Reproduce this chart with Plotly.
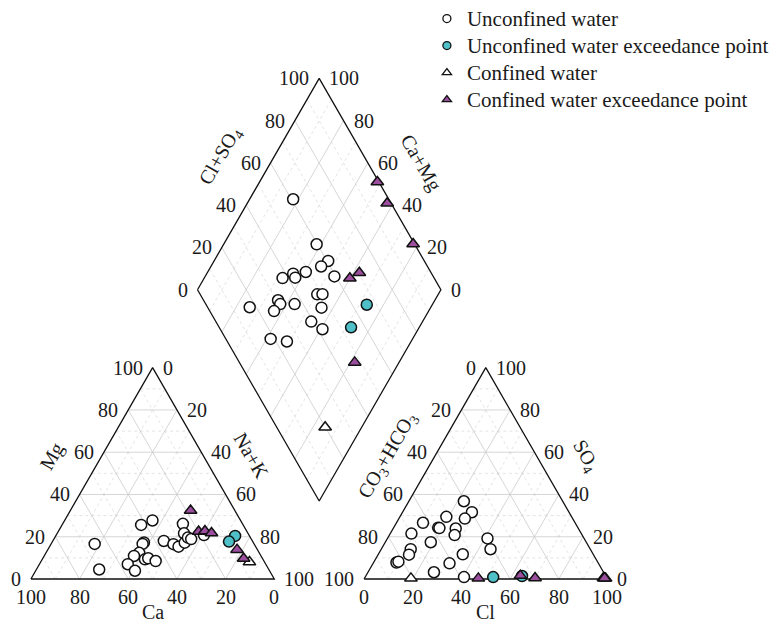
import numpy as np
import plotly.graph_objects as go

# ------------------------------------------------------------------
# DATA (percent of meq/L)
# ------------------------------------------------------------------
# Unconfined water - cation triangle
unc_ca = [65.5, 69.7, 41.9, 36.2, 44.9, 45.8, 49.3, 52.2, 56.7, 55.3, 48.5,
          46.9, 44.5, 36.4, 33.2, 31.7, 24.5, 26.3, 28.2, 25.7, 24.7, 18.5]
unc_mg = [16.6, 4.5, 25.6, 27.7, 17.3, 16.6, 12.4, 10.9, 7.0, 3.9, 9.3,
          9.8, 8.5, 18.0, 16.5, 15.3, 26.1, 21.6, 17.2, 19.6, 18.9, 20.8]
# Unconfined water - anion triangle
unc_cl = [22.6, 28.5, 27.1, 19.1, 18.3, 18.9, 25.7, 26.8, 10.9, 8.7, 18.7,
          12.1, 12.7, 9.4, 10.0, 27.1, 31.4, 34.7, 41.1, 44.9, 40.6]
unc_so4 = [36.8, 31.6, 28.6, 29.4, 24.3, 24.1, 23.9, 20.8, 26.6, 21.5, 17.4,
           14.1, 11.5, 7.8, 8.2, 3.2, 7.4, 11.7, 19.2, 14.1, 0.9]
# Unconfined water - diamond (Ca+Mg, Cl+SO4)
unc_camg = [82.1, 61.8, 53.1, 54.7, 46.9, 59.7, 64.5, 62.7, 67.8, 74.4, 64.4,
            62.6, 63.5, 56.7, 49.7, 47.6, 44.8, 45.7, 39.3, 58.3, 51.0]
unc_clso4 = [60.7, 59.7, 60.5, 56.3, 59.4, 48.7, 43.1, 43.0, 37.7, 17.3, 30.6,
             30.6, 26.4, 36.5, 48.1, 50.3, 46.7, 39.2, 42.0, 18.4, 24.5]

# Unconfined water exceedance points
uex_ca = [5.9, 9.75]
uex_mg = [20.4, 17.7]
uex_cl = [52.6, 64.2]
uex_so4 = [0.9, 1.4]
uex_camg = [26.9, 28.0]
uex_clso4 = [66.0, 54.2]

# Confined water
con_ca = [6.2]
con_mg = [8.0]
con_cl = [19.1]
con_so4 = [0.3]
con_camg = [15.0]
con_clso4 = [19.9]

# Confined water exceedance points
cex_ca = [18.2, 19.85, 17.15, 14.9, 8.35, 7.75]
cex_mg = [32.4, 22.5, 22.7, 21.8, 13.9, 9.7]
cex_cl = [46.8, 63.4, 70.0, 98.1, 99.1, 98.6]
cex_so4 = [0.3, 1.6, 0.5, 0.5, 0.3, 0.4]
cex_camg = [51.6, 42.5, 22.2, 40.1, 37.5, 18.2]
cex_clso4 = [99.4, 98.4, 99.4, 65.3, 70.5, 47.4]

TICKS = [0, 20, 40, 60, 80, 100]
SOLID_LEVELS = [20, 40, 60, 80]
DASH_LEVELS = [10, 30, 50, 70, 90]

# ------------------------------------------------------------------
# GEOMETRY
# ------------------------------------------------------------------
H = np.sqrt(3) / 2
GAP = 36.9
OX = 100 + GAP  # x offset of anion triangle


def cation_xy(ca, mg):
    ca = np.asarray(ca, float); mg = np.asarray(mg, float)
    na = 100 - ca - mg
    return na + 0.5 * mg, H * mg


def anion_xy(cl, so4):
    cl = np.asarray(cl, float); so4 = np.asarray(so4, float)
    return OX + cl + 0.5 * so4, H * so4


def diamond_xy(camg, a):
    camg = np.asarray(camg, float); a = np.asarray(a, float)
    na = 100 - camg
    return (na + OX + a) / 2, H * (OX + a - na)


def tri_segments(ox, levels):
    segs = []
    for v in levels:
        segs.append(((ox + 0.5 * v, H * v), (ox + 100 - 0.5 * v, H * v)))
        segs.append(((ox + v, 0), (ox + v + 0.5 * (100 - v), H * (100 - v))))
        segs.append(((ox + 100 - v, 0), (ox + 0.5 * (100 - v), H * (100 - v))))
    return segs


def dia_segments(levels):
    segs = []
    for v in levels:
        x0, y0 = diamond_xy(v, 0); x1, y1 = diamond_xy(v, 100)
        segs.append(((float(x0), float(y0)), (float(x1), float(y1))))
        x0, y0 = diamond_xy(0, v); x1, y1 = diamond_xy(100, v)
        segs.append(((float(x0), float(y0)), (float(x1), float(y1))))
    return segs


def seg_xy(segs):
    xs, ys = [], []
    for (a, b) in segs:
        xs += [a[0], b[0], None]
        ys += [a[1], b[1], None]
    return xs, ys


fig = go.Figure()

# grid
sx, sy = seg_xy(tri_segments(0, DASH_LEVELS) + tri_segments(OX, DASH_LEVELS) + dia_segments(DASH_LEVELS))
fig.add_trace(go.Scatter(x=sx, y=sy, mode="lines", showlegend=False, hoverinfo="skip",
                         line=dict(color="#dcdcdc", width=0.8, dash="3px,3px")))
sx, sy = seg_xy(tri_segments(0, SOLID_LEVELS) + tri_segments(OX, SOLID_LEVELS) + dia_segments(SOLID_LEVELS))
fig.add_trace(go.Scatter(x=sx, y=sy, mode="lines", showlegend=False, hoverinfo="skip",
                         line=dict(color="#cccccc", width=0.8)))

# outlines
ox_, oy_ = [], []
for o in (0, OX):
    ox_ += [o, o + 100, o + 50, o, None]
    oy_ += [0, 0, H * 100, 0, None]
dcx, dcy = diamond_xy([100, 0, 0, 100, 100], [0, 0, 100, 100, 0])
ox_ += list(dcx); oy_ += list(dcy)
fig.add_trace(go.Scatter(x=ox_, y=oy_, mode="lines", showlegend=False, hoverinfo="skip",
                         line=dict(color="#111111", width=1.3)))


def group_xy(ca, mg, cl, so4, camg, a):
    x1, y1 = cation_xy(ca, mg)
    x2, y2 = anion_xy(cl, so4)
    x3, y3 = diamond_xy(camg, a)
    return (list(x1) + list(x2) + list(x3), list(y1) + list(y2) + list(y3))


MS = 11
groups = [
    ("Unconfined water", (unc_ca, unc_mg, unc_cl, unc_so4, unc_camg, unc_clso4), "circle", "white"),
    ("Unconfined water exceedance point", (uex_ca, uex_mg, uex_cl, uex_so4, uex_camg, uex_clso4), "circle", "#4fc0c8"),
    ("Confined water", (con_ca, con_mg, con_cl, con_so4, con_camg, con_clso4), "triangle-up", "white"),
    ("Confined water exceedance point", (cex_ca, cex_mg, cex_cl, cex_so4, cex_camg, cex_clso4), "triangle-up", "#9b4e9e"),
]
for name, vals, sym, col in groups:
    gx, gy = group_xy(*vals)
    fig.add_trace(go.Scatter(x=gx, y=gy, mode="markers", name=name, showlegend=False,
                             marker=dict(symbol=sym, size=MS, color=col,
                                         line=dict(color="#111111", width=1.5))))
# legend entries
for name, vals, sym, col in groups:
    fig.add_trace(go.Scatter(x=[None], y=[None], mode="markers", showlegend=True,
                             name='<span style="font-size:21px">' + name + '</span>',
                             marker=dict(symbol=sym, size=8, color=col,
                                         line=dict(color="#111111", width=1.3))))

# ------------------------------------------------------------------
# TEXT
# ------------------------------------------------------------------
FONT = dict(family="Liberation Serif, Times New Roman, serif", size=20, color="#1a1a1a")
anns = []


def ann(x, y, text, xanchor="center", xshift=0, yshift=0, angle=0, size=20):
    anns.append(dict(x=float(x), y=float(y), xref="x", yref="y", text=text, showarrow=False,
                     xanchor=xanchor, yanchor="middle", xshift=xshift, yshift=yshift,
                     textangle=angle, font=dict(FONT, size=size)))


for v in TICKS:
    # cation triangle
    ann(100 - v, 0, str(v), yshift=-18)                           # Ca
    ann(0.5 * v, H * v, str(v), xanchor="right", xshift=-8)         # Mg
    ann(v + 0.5 * (100 - v), H * (100 - v), str(v), xanchor="left", xshift=8)  # Na+K
    # anion triangle
    ann(OX + v, 0, str(v), yshift=-18)                            # Cl
    ann(OX + 0.5 * (100 - v), H * (100 - v), str(v), xanchor="right", xshift=-8)  # CO3+HCO3
    ann(OX + 100 - 0.5 * v, H * v, str(v), xanchor="left", xshift=8)  # SO4
    # diamond
    x, y = diamond_xy(100, v)
    ann(x, y, str(v), xanchor="right", xshift=-8)                 # Cl+SO4
    x, y = diamond_xy(v, 100)
    ann(x, y, str(v), xanchor="left", xshift=8)                   # Ca+Mg

ann(50, 0, "Ca", yshift=-33)
ann(OX + 50, 0, "Cl", yshift=-33)
ann(25, H * 50, "Mg", xshift=-40, yshift=17, angle=-60)
ann(75, H * 50, "Na+K", xshift=38, yshift=17, angle=60)
ann(OX + 25, H * 50, "CO<sub>3</sub>+HCO<sub>3</sub>", xshift=-37, yshift=18, angle=-60)
ann(OX + 75, H * 50, "SO<sub>4</sub>", xshift=39, yshift=17, angle=60)
x, y = diamond_xy(100, 50)
ann(x, y, "Cl+SO<sub>4</sub>", xshift=-38, yshift=28, angle=-60)
x, y = diamond_xy(50, 100)
ann(x, y, "Ca+Mg", xshift=41, yshift=22, angle=60)

PX = 2.44
fig.update_layout(
    width=774, height=630,
    margin=dict(l=0, r=0, t=0, b=0),
    paper_bgcolor="white", plot_bgcolor="white",
    xaxis=dict(visible=False, range=[-31 / PX, (774 - 31) / PX], fixedrange=True),
    yaxis=dict(visible=False, range=[-(630 - 579) / PX, 579 / PX], fixedrange=True),
    annotations=anns,
    showlegend=True,
    legend=dict(x=428 / 774, y=1.0, xanchor="left", yanchor="top",
                bgcolor="rgba(0,0,0,0)", font=dict(FONT, size=18.5),
                tracegroupgap=0, itemwidth=30),
    font=FONT,
)

fig.write_html("out.html")
